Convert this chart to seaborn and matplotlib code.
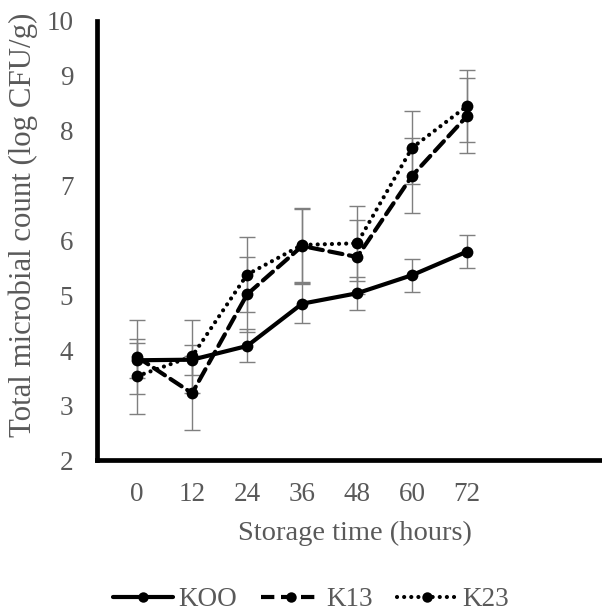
import numpy as np
import pandas as pd
import matplotlib
matplotlib.use("Agg")
import matplotlib.pyplot as plt
import seaborn as sns
from matplotlib.lines import Line2D

# ---- data ----
hours = ["0", "12", "24", "36", "48", "60", "72"]
koo = [3.82, 3.83, 4.08, 4.85, 5.04, 5.37, 5.80]
koo_sd = [0.32, 0.27, 0.30, 0.35, 0.30, 0.30, 0.30]
k13 = [3.88, 3.22, 5.02, 5.90, 5.70, 7.18, 8.27]
k13_sd = [0.68, 0.67, 0.68, 0.68, 0.68, 0.68, 0.68]
k23 = [3.53, 3.89, 5.38, 5.92, 5.95, 7.69, 8.45]
k23_sd = [0.68, 0.67, 0.68, 0.68, 0.68, 0.66, 0.66]
series_names = ["KOO", "K13", "K23"]

sns.set_theme(style="white")
plt.rcParams["font.family"] = ["Liberation Serif", "DejaVu Serif"]
txt = "#595959"
fs = 19.5

W, H = 602, 612
pos = np.arange(len(hours))
df = pd.concat([
    pd.DataFrame({"pos": pos, "val": koo, "sd": koo_sd, "series": "KOO"}),
    pd.DataFrame({"pos": pos, "val": k13, "sd": k13_sd, "series": "K13"}),
    pd.DataFrame({"pos": pos, "val": k23, "sd": k23_sd, "series": "K23"}),
])

fig = plt.figure(figsize=(W / 100, H / 100), dpi=100)
ax = fig.add_axes([0.161, 0.248, 0.839, 0.718])

# error bars (grey, behind lines)
for name in series_names:
    d = df[df.series == name]
    ax.errorbar(d.pos, d.val, yerr=d.sd, fmt="none", ecolor="#7f7f7f",
                elinewidth=1.0, capsize=6, capthick=1.0, zorder=1)

sns.lineplot(data=df, x="pos", y="val", hue="series", style="series",
             hue_order=series_names, style_order=series_names,
             palette=["black"] * 3,
             dashes={"KOO": "", "K13": (3.2, 1.6), "K23": (0.01, 1.7)},
             markers={"KOO": "o", "K13": "o", "K23": "o"},
             markersize=8.5, linewidth=3.0, markeredgewidth=0,
             ax=ax, zorder=3, legend=False, errorbar=None)
for ln in ax.get_lines():
    ln.set_dash_capstyle("round")
    ln.set_solid_capstyle("round")

ax.set_ylim(2, 10)
ax.set_xlim(-0.73, 8.45)
ax.set_yticks(range(2, 11))
ax.set_xticks(pos)
ax.set_xticklabels(hours)
ax.tick_params(axis="both", length=0, labelsize=fs, colors=txt)
ax.tick_params(axis="y", pad=17)
ax.tick_params(axis="x", pad=16)
for s in ["top", "right"]:
    ax.spines[s].set_visible(False)
for s in ["left", "bottom"]:
    ax.spines[s].set_color("black")
    ax.spines[s].set_linewidth(3.4)
ax.grid(False)

ax.set_xlabel("Storage time (hours)", fontsize=fs, color=txt)
ax.set_ylabel("Total microbial count (log CFU/g)", fontsize=fs, color=txt)

# fit label sizes to the reference extents
fig.canvas.draw()
r = fig.canvas.get_renderer()
xl, yl = ax.xaxis.label, ax.yaxis.label
xl.set_fontsize(fs * 234 / xl.get_window_extent(r).width)
yl.set_fontsize(fs * 424 / yl.get_window_extent(r).height)

def fig2ax(px, py):
    fx, fy = px / W, 1 - py / H
    return (fx - 0.161) / 0.839, (fy - 0.248) / 0.718

xl.set_va("center")
ax.xaxis.set_label_coords(*fig2ax(355, 533))
yl.set_va("bottom")
yx, yy = fig2ax(38, 225)
ax.yaxis.set_label_coords(yx, yy)

# legend
handles = [
    Line2D([], [], color="black", lw=3.0, marker="o", ms=7.5, mew=0),
    Line2D([], [], color="black", lw=3.0, marker="o", ms=7.5, mew=0, dashes=(3.2, 1.6)),
    Line2D([], [], color="black", lw=3.0, marker="o", ms=7.5, mew=0, dashes=(0.01, 1.7),
           dash_capstyle="round"),
]
leg = fig.legend(handles, series_names, loc="center", bbox_to_anchor=(311 / W, 1 - 600 / H),
                 ncol=3, frameon=False, fontsize=fs, handlelength=2.2,
                 handletextpad=0.2, columnspacing=0.9, borderpad=0.1)
for t in leg.get_texts():
    t.set_color(txt)

fig.savefig("out.png", dpi=100)
